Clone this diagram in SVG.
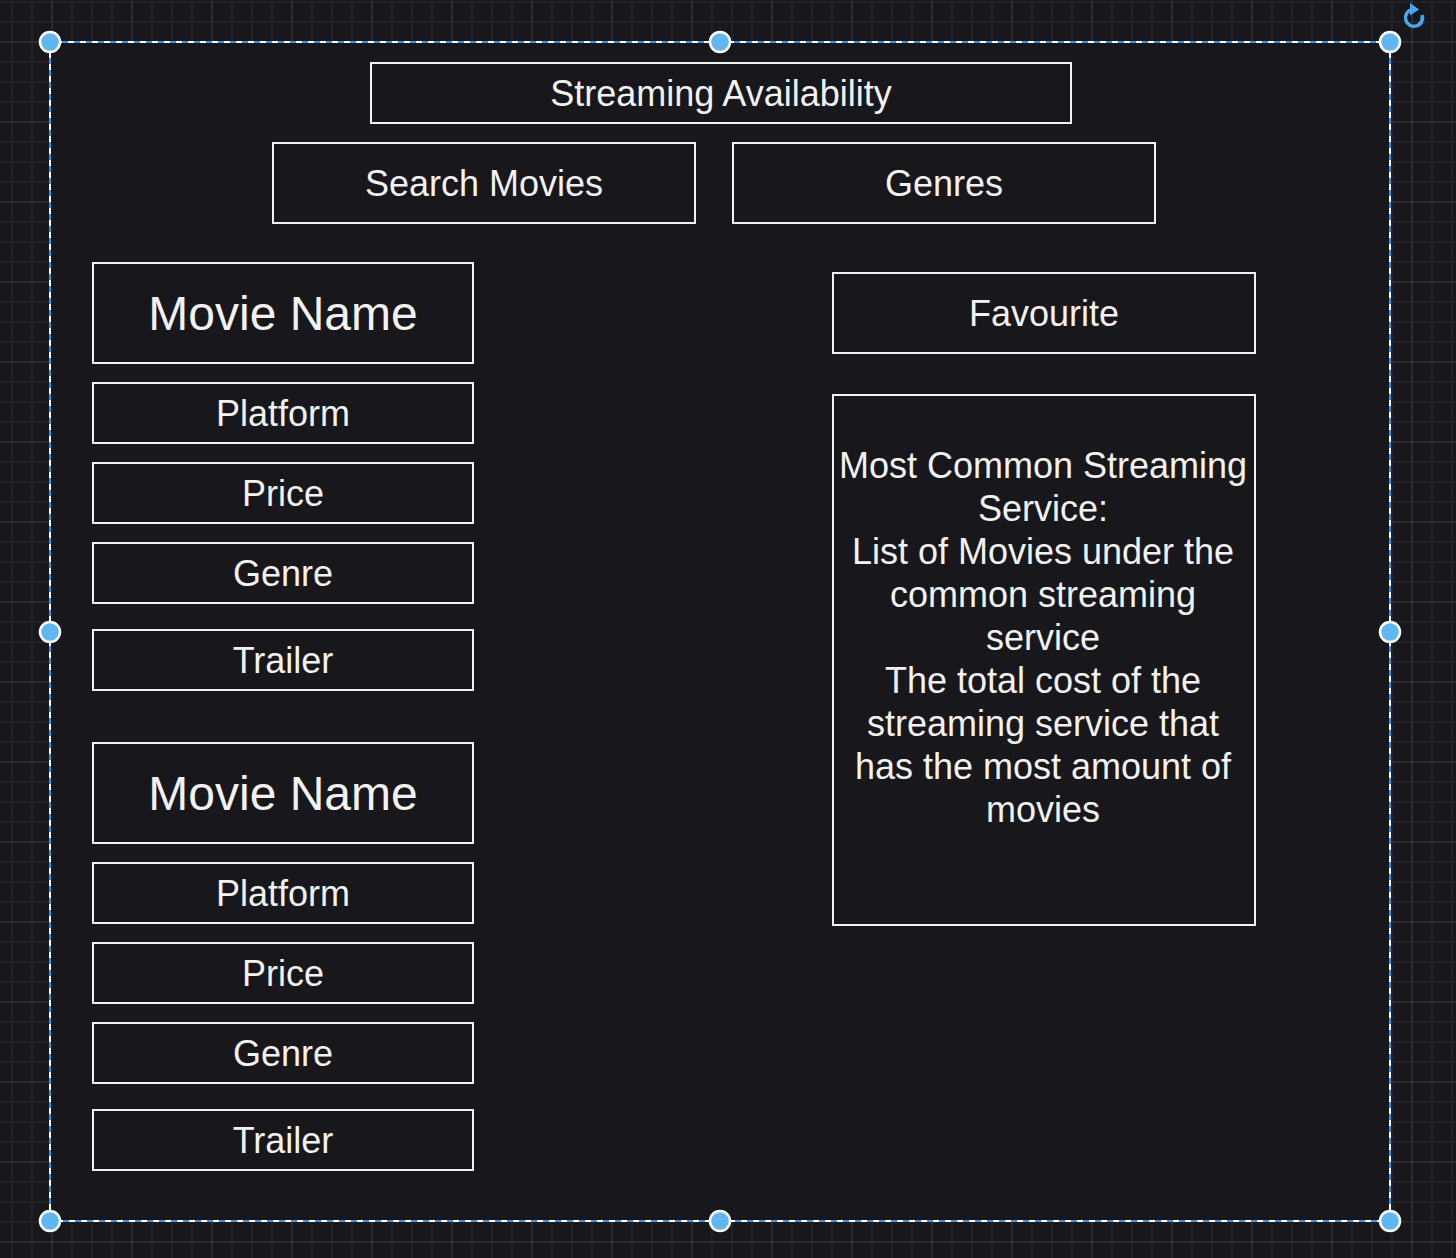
<svg xmlns="http://www.w3.org/2000/svg" width="1456" height="1258" viewBox="0 0 1456 1258">
  <style>
    .box { fill: #18171c; stroke: #f2f2f2; stroke-width: 2; }
    .lbl { font-family: "Liberation Sans", Arial, sans-serif; font-size: 36px; fill: #f2f2f2; text-anchor: middle; }
    .big { font-size: 48px; }
    .handle { fill: #5fb6f1; stroke: #ffffff; stroke-width: 2.5; }
  </style>
  <defs>
    <pattern id="grid" patternUnits="userSpaceOnUse" x="0" y="0" width="80" height="80">
      <rect width="80" height="80" fill="#18171c"/>
      <g stroke="#222127" stroke-width="2">
        <line x1="12" y1="0" x2="12" y2="80"/>
        <line x1="32" y1="0" x2="32" y2="80"/>
        <line x1="72" y1="0" x2="72" y2="80"/>
        <line x1="0" y1="2" x2="80" y2="2"/>
        <line x1="0" y1="22" x2="80" y2="22"/>
        <line x1="0" y1="62" x2="80" y2="62"/>
      </g>
      <g stroke="#3e3e43" stroke-width="1">
        <line x1="52" y1="0" x2="52" y2="80"/>
        <line x1="0" y1="42" x2="80" y2="42"/>
      </g>
    </pattern>
  </defs>

  <rect width="1456" height="1258" fill="url(#grid)"/>

  <g id="container">
    <rect x="50" y="42" width="1340" height="1179" fill="#18171c" stroke="#ffffff" stroke-width="2"/>
    <rect x="50" y="42" width="1340" height="1179" fill="none" stroke="#3a93e6" stroke-width="2" stroke-dasharray="6 6"/>
  </g>

  <g id="streaming-availability">
    <rect class="box" x="371" y="63" width="700" height="60"/>
    <text class="lbl" x="721" y="106">Streaming Availability</text>
  </g>
  <g id="search-movies">
    <rect class="box" x="273" y="143" width="422" height="80"/>
    <text class="lbl" x="484" y="196">Search Movies</text>
  </g>
  <g id="genres">
    <rect class="box" x="733" y="143" width="422" height="80"/>
    <text class="lbl" x="944" y="196">Genres</text>
  </g>

  <g id="movie-name-1">
    <rect class="box" x="93" y="263" width="380" height="100"/>
    <text class="lbl big" x="283" y="330">Movie Name</text>
  </g>
  <g id="platform-1">
    <rect class="box" x="93" y="383" width="380" height="60"/>
    <text class="lbl" x="283" y="426">Platform</text>
  </g>
  <g id="price-1">
    <rect class="box" x="93" y="463" width="380" height="60"/>
    <text class="lbl" x="283" y="506">Price</text>
  </g>
  <g id="genre-1">
    <rect class="box" x="93" y="543" width="380" height="60"/>
    <text class="lbl" x="283" y="586">Genre</text>
  </g>
  <g id="trailer-1">
    <rect class="box" x="93" y="630" width="380" height="60"/>
    <text class="lbl" x="283" y="673">Trailer</text>
  </g>

  <g id="movie-name-2">
    <rect class="box" x="93" y="743" width="380" height="100"/>
    <text class="lbl big" x="283" y="810">Movie Name</text>
  </g>
  <g id="platform-2">
    <rect class="box" x="93" y="863" width="380" height="60"/>
    <text class="lbl" x="283" y="906">Platform</text>
  </g>
  <g id="price-2">
    <rect class="box" x="93" y="943" width="380" height="60"/>
    <text class="lbl" x="283" y="986">Price</text>
  </g>
  <g id="genre-2">
    <rect class="box" x="93" y="1023" width="380" height="60"/>
    <text class="lbl" x="283" y="1066">Genre</text>
  </g>
  <g id="trailer-2">
    <rect class="box" x="93" y="1110" width="380" height="60"/>
    <text class="lbl" x="283" y="1153">Trailer</text>
  </g>

  <g id="favourite">
    <rect class="box" x="833" y="273" width="422" height="80"/>
    <text class="lbl" x="1044" y="326">Favourite</text>
  </g>

  <g id="most-common">
    <rect class="box" x="833" y="395" width="422" height="530"/>
    <text class="lbl" x="1043" y="478">Most Common Streaming</text>
    <text class="lbl" x="1043" y="521">Service:</text>
    <text class="lbl" x="1043" y="564">List of Movies under the</text>
    <text class="lbl" x="1043" y="607">common streaming</text>
    <text class="lbl" x="1043" y="650">service</text>
    <text class="lbl" x="1043" y="693">The total cost of the</text>
    <text class="lbl" x="1043" y="736">streaming service that</text>
    <text class="lbl" x="1043" y="779">has the most amount of</text>
    <text class="lbl" x="1043" y="822">movies</text>
  </g>

  <g id="connectors"></g>

  <g id="selection-handles">
    <circle class="handle" cx="50" cy="42" r="10"/>
    <circle class="handle" cx="720" cy="42" r="10"/>
    <circle class="handle" cx="1390" cy="42" r="10"/>
    <circle class="handle" cx="50" cy="632" r="10"/>
    <circle class="handle" cx="1390" cy="632" r="10"/>
    <circle class="handle" cx="50" cy="1221" r="10"/>
    <circle class="handle" cx="720" cy="1221" r="10"/>
    <circle class="handle" cx="1390" cy="1221" r="10"/>
  </g>

  <g id="rotate-handle" fill="none" stroke="#4aa6ee" stroke-width="3.5">
    <path d="M 1412 9.5 A 8.5 8.5 0 1 0 1422 15"/>
    <path d="M 1422.3 16.5 A 8.5 8.5 0 0 1 1418 25.5" stroke-dasharray="3 2"/>
    <polygon points="1410,3 1419,9.5 1410,15.5" fill="#4aa6ee" stroke="none"/>
  </g>
</svg>
